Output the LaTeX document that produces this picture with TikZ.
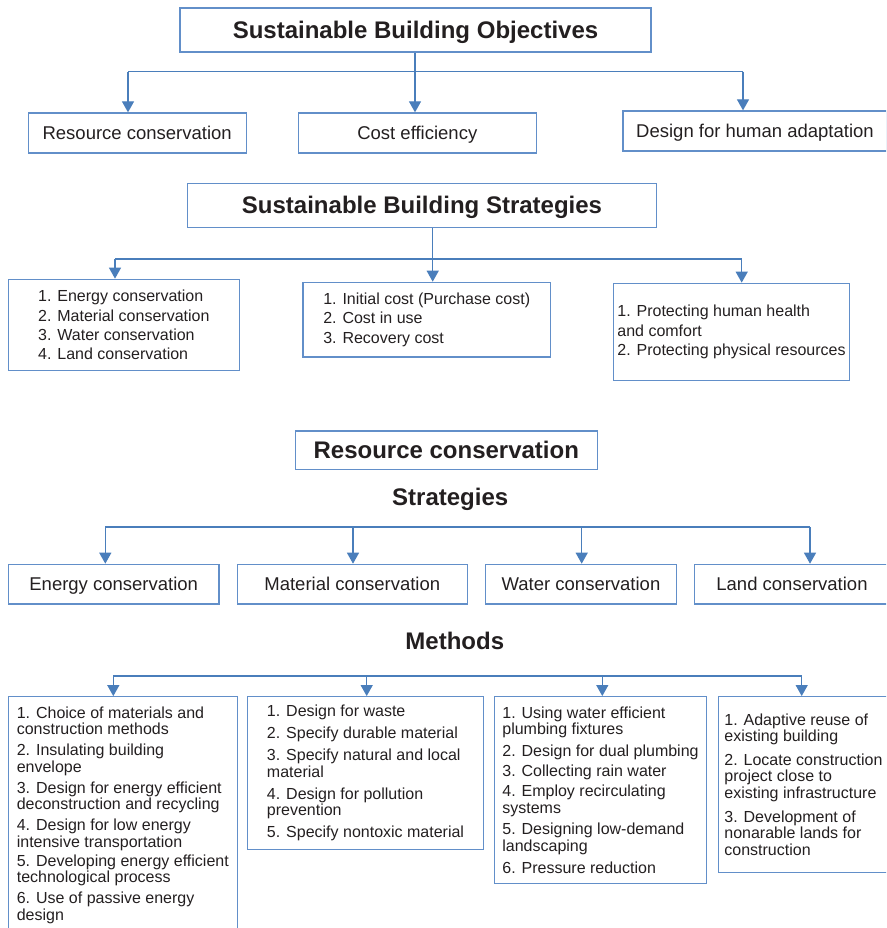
\documentclass[tikz,border=0pt]{standalone}
\usepackage{fontspec}
\setmainfont{Liberation Sans}
\usetikzlibrary{arrows.meta}
\definecolor{lineblue}{RGB}{74,126,187}
\definecolor{boxblue}{RGB}{98,143,201}
\definecolor{inkgray}{RGB}{35,31,32}

\begin{document}
\begin{tikzpicture}[x=1pt,y=-1pt,
	box/.style={draw=boxblue,line width=1.3pt,inner sep=0pt,text=inkgray},
	head/.style={box,font=\fontsize{24}{28}\selectfont\bfseries,text height=17.2pt,text depth=0pt},
	heading/.style={text=inkgray,inner sep=0pt,font=\fontsize{24}{28}\selectfont\bfseries,text height=17.2pt,text depth=0pt},
	item/.style={box,font=\fontsize{18.5}{22}\selectfont,text height=13.3pt,text depth=0pt},
	list/.style={box,align=left,font=\fontsize{16}{19.3}\selectfont},
	method/.style={box,align=left,font=\fontsize{16}{16.5}\selectfont},
	bus/.style={draw=lineblue,line width=1.3pt},
	feed/.style={bus,-{Triangle[width=12pt,length=11pt]}}]
% page frame
\useasboundingbox (0,0) rectangle (886,928);
\clip (0,0) rectangle (886,928);

% objectives
\node[head,minimum width=471,minimum height=44] (Obj) at (415.5,30) {Sustainable Building Objectives};
\node[item,minimum width=218,minimum height=40] (Res) at (137.2,133) {Resource conservation};
\node[item,minimum width=238,minimum height=40] (Cost) at (417.3,133) {Cost efficiency};
\node[item,minimum width=264,minimum height=40] (Adapt) at (755,131) {Design for human adaptation};
\coordinate (o1) at (128,71.7);
\coordinate (o2) at (415,71.7);
\coordinate (o3) at (743,71.7);
\draw[bus] (Obj.south -| o2) -- (o2);
\draw[bus] (o1) -- (o3);
\draw[feed] (o1) -- (o1 |- Res.north);
\draw[feed] (o2) -- (o2 |- Cost.north);
\draw[feed] (o3) -- (o3 |- Adapt.north);

% strategies
\node[head,minimum width=469,minimum height=44] (Strat) at (422,205.3) {Sustainable Building Strategies};
\node[list,minimum width=231,minimum height=91.4] (ResList) at (123.8,325) {1. Energy conservation\\2. Material conservation\\3. Water conservation\\4. Land conservation};
\node[list,minimum width=247.3,minimum height=74.7] (CostList) at (426.7,319.7) {1. Initial cost (Purchase cost)\\2. Cost in use\\3. Recovery cost};
\node[list,minimum width=235.6,minimum height=97.4] (AdaptList) at (731.5,332) {1. Protecting human health\\and comfort\\2. Protecting physical resources};
\coordinate (s1) at (115,259);
\coordinate (s2) at (432.7,259);
\coordinate (s3) at (741.7,259);
\draw[bus] (Strat.south -| s2) -- (s2);
\draw[bus] (s1) -- (s3);
\draw[feed] (s1) -- (s1 |- ResList.north);
\draw[feed] (s2) -- (s2 |- CostList.north);
\draw[feed] (s3) -- (s3 |- AdaptList.north);

% resource conservation
\node[head,minimum width=302,minimum height=38.3] (RC) at (446.3,450.2) {Resource conservation};
\node[heading] (RCStrat) at (450.2,497.3) {Strategies};
\node[item,minimum width=210.7,minimum height=39.7] (Energy) at (113.7,584.2) {Energy conservation};
\node[item,minimum width=230,minimum height=39.7] (Material) at (352.3,584.2) {Material conservation};
\node[item,minimum width=191.4,minimum height=39.7] (Water) at (581,584.2) {Water conservation};
\node[item,minimum width=194.6,minimum height=39.7] (Land) at (792,584.2) {Land conservation};
\coordinate (r1) at (105.3,527);
\coordinate (r2) at (353,527);
\coordinate (r3) at (581.7,527);
\coordinate (r4) at (810,527);
\draw[bus] (r1) -- (r4);
\draw[feed] (r1) -- (r1 |- Energy.north);
\draw[feed] (r2) -- (r2 |- Material.north);
\draw[feed] (r3) -- (r3 |- Water.north);
\draw[feed] (r4) -- (r4 |- Land.north);

% methods
\node[heading] (RCMeth) at (454.8,641.3) {Methods};
\node[method,minimum width=229,minimum height=236.3] (EnergyMeth) at (122.8,814.9) {1. Choice of materials and\\construction methods\\[4.5pt]2. Insulating building\\envelope\\[4.5pt]3. Design for energy efficient\\deconstruction and recycling\\[4.5pt]4. Design for low energy\\intensive transportation\\[2.5pt]5. Developing energy efficient\\technological process\\[4.5pt]6. Use of passive energy\\design};
\node[method,minimum width=236.4,minimum height=152.6] (MaterialMeth) at (365.5,773) {1. Design for waste\\[5.5pt]2. Specify durable material\\[5.5pt]3. Specify natural and local\\material\\[5.5pt]4. Design for pollution\\prevention\\[5.5pt]5. Specify nontoxic material};
\node[method,minimum width=212.4,minimum height=186.6] (WaterMeth) at (600.5,790) {1. Using water efficient\\plumbing fixtures\\[5.5pt]2. Design for dual plumbing\\[3.5pt]3. Collecting rain water\\[3.5pt]4. Employ recirculating\\systems\\[5pt]5. Designing low-demand\\landscaping\\[5.5pt]6. Pressure reduction};
\node[method,minimum width=169.3,minimum height=176] (LandMeth) at (803.4,784.7) {1. Adaptive reuse of\\existing building\\[7pt]2. Locate construction\\project close to\\existing infrastructure\\[7.5pt]3. Development of\\nonarable lands for\\construction};
\coordinate (m1) at (113.3,676);
\coordinate (m2) at (366.7,676);
\coordinate (m3) at (602.3,676);
\coordinate (m4) at (801.7,676);
\draw[bus] (m1) -- (m4);
\draw[feed] (m1) -- (m1 |- EnergyMeth.north);
\draw[feed] (m2) -- (m2 |- MaterialMeth.north);
\draw[feed] (m3) -- (m3 |- WaterMeth.north);
\draw[feed] (m4) -- (m4 |- LandMeth.north);
\end{tikzpicture}
\end{document}
